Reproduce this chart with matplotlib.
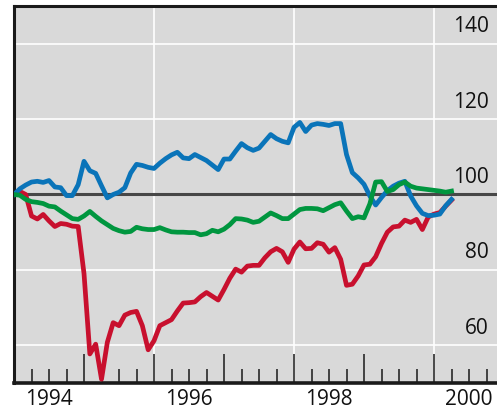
import numpy as np
import matplotlib.pyplot as plt
from matplotlib.ticker import MultipleLocator
import matplotlib.transforms as mtransforms

plt.rcParams['font.family'] = ['Open Sans', 'DejaVu Sans']

# Monthly index values, Jan 1994 = 100
start_year = 1994
blue = [100.0, 101.5, 102.5, 103.3, 103.5, 103.2, 103.7, 102.0, 101.8, 99.7,
        99.7, 102.6, 108.8, 106.3, 105.6, 102.3, 99.1, 100.0, 100.6, 101.8,
        105.7, 108.0, 107.7, 107.2, 106.9, 108.3, 109.5, 110.5, 111.2, 109.7,
        109.5, 110.6, 109.8, 109.0, 107.8, 106.6, 109.4, 109.4, 111.5, 113.5,
        112.4, 111.7, 112.3, 114.1, 115.9, 114.8, 114.1, 113.7, 117.8, 119.1,
        116.7, 118.4, 118.8, 118.6, 118.3, 118.8, 118.8, 110.6, 105.8, 104.4,
        102.7, 99.6, 97.2, 99.2, 101.0, 102.2, 103.0, 103.5, 99.6, 97.0,
        95.0, 94.4, 94.5, 94.8, 97.0, 98.7]
red = [100.0, 100.8, 100.0, 94.3, 93.5, 94.7, 93.0, 91.5, 92.3, 92.1,
       91.6, 91.5, 79.0, 57.7, 60.3, 51.0, 60.8, 66.0, 65.2, 68.0,
       68.7, 69.0, 65.2, 58.8, 61.2, 65.2, 66.0, 66.8, 69.1, 71.2,
       71.3, 71.5, 72.9, 74.0, 73.0, 72.0, 74.8, 77.8, 80.2, 79.4,
       81.0, 81.2, 81.2, 83.2, 84.8, 85.7, 84.8, 82.0, 85.5, 87.4,
       85.6, 85.7, 87.2, 86.8, 84.7, 85.9, 82.8, 75.9, 76.2, 78.4,
       81.3, 81.5, 83.5, 87.0, 90.0, 91.4, 91.6, 93.2, 92.6, 93.4,
       90.7, 94.0, 94.8, 95.2, 96.9, 98.5]
green = [100.0, 99.8, 98.7, 98.1, 97.9, 97.6, 96.9, 96.7, 95.6, 94.6,
         93.6, 93.4, 94.3, 95.5, 94.2, 93.0, 92.0, 91.0, 90.4, 90.0,
         90.2, 91.3, 90.9, 90.7, 90.7, 91.2, 90.6, 90.1, 90.0, 90.0,
         89.9, 89.9, 89.3, 89.6, 90.5, 90.1, 90.8, 92.0, 93.6, 93.5,
         93.2, 92.6, 92.9, 94.0, 95.1, 94.4, 93.6, 93.6, 94.8, 96.0,
         96.3, 96.3, 96.2, 95.7, 96.5, 97.3, 97.8, 95.6, 93.6, 94.1,
         93.8, 97.5, 103.3, 103.4, 100.8, 101.3, 102.6, 103.3, 102.2, 101.7,
         101.5, 101.3, 101.1, 100.9, 100.6, 100.9]

year_labels = [1994, 1996, 1998, 2000]
y_labels = [60, 80, 100, 120, 140]

t = start_year + np.arange(len(blue)) / 12

fig = plt.figure(figsize=(4.97, 4.09), dpi=100)
ax = fig.add_axes([0.0282, 0.0636, 0.9718, 0.9218])
ax.set_facecolor('#d9d9d9')

# grid
for v in [60, 80, 120, 140]:
    ax.axhline(v, color='white', lw=1.2, zorder=1)
for yr in [1996, 1998, 2000]:
    ax.axvline(yr, color='white', lw=1.2, zorder=1)
ax.axhline(100, color='#474747', lw=2.2, zorder=2)

ax.plot(t, red, color='#c8102e', lw=3.4, zorder=3)
ax.plot(t, blue, color='#0a74b9', lw=3.4, zorder=4)
ax.plot(t, green, color='#00963f', lw=3.4, zorder=5)

ax.set_xlim(1994, 2000.9)
ax.set_ylim(50, 150)

for s in ['left', 'top', 'bottom']:
    ax.spines[s].set_color('#1a1a1a')
ax.spines['left'].set_linewidth(2.2)
ax.spines['top'].set_linewidth(2.2)
ax.spines['bottom'].set_linewidth(2.6)
ax.spines['right'].set_visible(False)

ax.xaxis.set_major_locator(MultipleLocator(1))
ax.xaxis.set_minor_locator(MultipleLocator(0.25))
ax.tick_params(axis='x', which='major', direction='in', length=21, width=1.1,
               color='#1a1a1a', labelbottom=False)
ax.tick_params(axis='x', which='minor', direction='in', length=10, width=1.1,
               color='#1a1a1a')
ax.set_yticks([])

trans = mtransforms.blended_transform_factory(ax.transData, fig.transFigure)
for yr in year_labels:
    ax.text(yr + 0.5, 0.024, str(yr), transform=trans, ha='center', va='center',
            fontsize=15, color='#111111')

trans_y = mtransforms.blended_transform_factory(ax.transAxes, ax.transData)
for v in y_labels:
    ax.text(0.983, v + 4.5, str(v), transform=trans_y, ha='right', va='center',
            fontsize=15, color='#111111')

plt.savefig('out.png', dpi=100)
